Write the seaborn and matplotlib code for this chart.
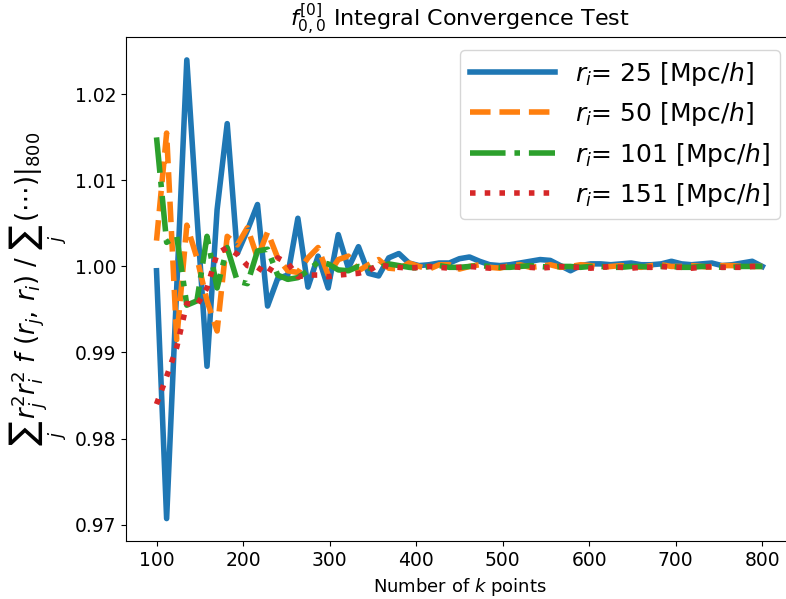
import numpy as np
import pandas as pd
import matplotlib
matplotlib.use("Agg")
import matplotlib.pyplot as plt
import seaborn as sns

n_points = list(np.linspace(100, 800, 61))

ratio_r25 = [0.9995, 0.9707, 0.9975, 1.0240, 1.0060, 0.9884, 1.0066, 1.0166, 1.0015, 1.0042,
             1.0072, 0.9954, 0.9986, 0.9990, 1.0056, 0.9976, 1.0012, 0.9975, 1.0037, 0.9998,
             1.0023, 0.9992, 0.9989, 1.0010, 1.0015, 1.0004, 1.0001, 1.0002, 1.0004, 1.0004,
             1.0009, 1.0011, 1.0006, 1.0002, 1.0001, 1.0002, 1.0004, 1.0006, 1.0008, 1.0007,
             1.0001, 0.9995, 1.0001, 1.0003, 1.0003, 1.0002, 1.0003, 1.0004, 1.0002, 1.0002,
             1.0003, 1.0006, 1.0003, 1.0002, 1.0003, 1.0004, 1.0001, 1.0002, 1.0004, 1.0006,
             1.0000]
ratio_r50 = [1.0030, 1.0155, 0.9915, 1.0048, 1.0010, 0.9960, 0.9925, 1.0035, 1.0025, 1.0045,
             1.0010, 1.0040, 1.0010, 0.9995, 0.9993, 1.0010, 1.0022, 0.9990, 1.0008, 1.0012,
             0.9995, 1.0002, 1.0008, 0.9998, 0.9997, 1.0004, 1.0000, 0.9997, 1.0002, 1.0002,
             0.9997, 1.0000, 1.0002, 0.9999, 0.9998, 1.0001, 1.0002, 0.9999, 1.0000, 1.0002,
             0.9999, 1.0000, 1.0002, 1.0001, 0.9999, 1.0000, 1.0001, 1.0000, 0.9999, 1.0001,
             1.0002, 1.0000, 1.0000, 1.0001, 1.0000, 0.9999, 1.0001, 1.0001, 1.0000, 1.0000,
             1.0000]
ratio_r101 = [1.0150, 1.0028, 1.0035, 0.9955, 0.9960, 1.0035, 0.9975, 1.0022, 0.9983, 0.9980,
              1.0018, 1.0020, 0.9990, 0.9985, 0.9987, 0.9995, 1.0005, 1.0003, 0.9996, 0.9995,
              1.0000, 0.9998, 0.9998, 1.0003, 1.0001, 0.9999, 0.9998, 1.0000, 1.0001, 0.9999,
              0.9999, 1.0000, 1.0001, 1.0000, 0.9999, 0.9999, 1.0000, 1.0001, 1.0000, 0.9999,
              1.0000, 1.0000, 0.9999, 1.0000, 1.0000, 0.9999, 0.9999, 1.0000, 1.0000, 0.9999,
              1.0000, 1.0000, 0.9999, 0.9999, 1.0000, 1.0000, 0.9999, 0.9999, 1.0000, 1.0000,
              1.0000]
ratio_r151 = [0.9840, 0.9872, 0.9906, 0.9957, 0.9955, 0.9975, 1.0015, 1.0022, 1.0014, 1.0001,
              0.9999, 0.9991, 1.0010, 1.0004, 0.9988, 0.9990, 0.9990, 0.9988, 0.9990, 0.9991,
              0.9992, 0.9995, 1.0002, 1.0000, 0.9999, 0.9998, 0.9999, 1.0000, 0.9999, 0.9998,
              0.9999, 1.0000, 0.9999, 0.9998, 0.9999, 1.0000, 0.9999, 0.9999, 0.9998, 0.9999,
              1.0000, 0.9999, 0.9999, 0.9998, 0.9999, 1.0000, 0.9999, 0.9998, 0.9999, 0.9999,
              1.0000, 0.9999, 0.9999, 0.9998, 0.9999, 1.0000, 0.9999, 0.9999, 0.9999, 1.0000,
              1.0000]

labels = [r'$r_i$= 25 [Mpc/$h$]', r'$r_i$= 50 [Mpc/$h$]',
          r'$r_i$= 101 [Mpc/$h$]', r'$r_i$= 151 [Mpc/$h$]']
series = [ratio_r25, ratio_r50, ratio_r101, ratio_r151]
colors = ['#1f77b4', '#ff7f0e', '#2ca02c', '#d62728']
styles = ['-', '--', '-.', ':']

fig = plt.figure(figsize=(7.86, 5.99), dpi=100)
ax = fig.add_axes([0.1606, 0.096, 0.8478, 0.8422])

for lab, ys, c, ls in zip(labels, series, colors, styles):
    df = pd.DataFrame({'k': n_points, 'ratio': ys})
    sns.lineplot(data=df, x='k', y='ratio', ax=ax, color=c, linestyle=ls,
                 linewidth=4, label=lab)

ax.set_xticks([100, 200, 300, 400, 500, 600, 700, 800])
ax.set_yticks([0.97, 0.98, 0.99, 1.00, 1.01, 1.02])
ax.tick_params(labelsize=13.5)
ax.set_xlabel(r'Number of $k$ points', fontsize=13)
ax.set_ylabel(r'$\sum_j\, r_j^2 r_i^2\ f\ (r_j,\, r_i)\ /\ \sum_j\, (\cdots)|_{800}$',
              fontsize=18.5)
ax.set_title(r'$f^{[0]}_{0,0}$ Integral Convergence Test', fontsize=16)
ax.legend(loc='upper right', fontsize=18, handlelength=3.4)

fig.savefig('out.png', dpi=100)
